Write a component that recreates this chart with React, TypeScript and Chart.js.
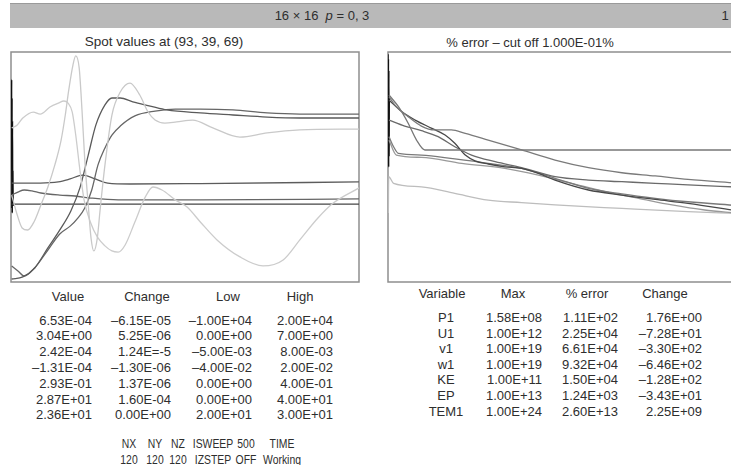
import React, { useEffect, useRef } from "react";
import { Chart, registerables } from "chart.js";
Chart.register(...registerables);

type Pt = [number, number];

// ---------- table data ----------
const variables = ["P1", "U1", "v1", "w1", "KE", "EP", "TEM1"];
const maxCol = ["1.58E+08", "1.00E+12", "1.00E+19", "1.00E+19", "1.00E+11", "1.00E+13", "1.00E+24"];
const errCol = ["1.11E+02", "2.25E+04", "6.61E+04", "9.32E+04", "1.50E+04", "1.24E+03", "2.60E+13"];
const chgCol = ["1.76E+00", "–7.28E+01", "–3.30E+02", "–6.46E+02", "–1.28E+02", "–3.43E+01", "2.25E+09"];

const valueCol = ["6.53E-04", "3.04E+00", "2.42E-04", "–1.31E-04", "2.93E-01", "2.87E+01", "2.36E+01"];
const changeCol = ["–6.15E-05", "5.25E-06", "1.24E=-5", "–1.30E-06", "1.37E-06", "1.60E-04", "0.00E+00"];
const lowCol = ["–1.00E+04", "0.00E+00", "–5.00E-03", "–4.00E-02", "0.00E+00", "0.00E+00", "2.00E+01"];
const highCol = ["2.00E+04", "7.00E+00", "8.00E-03", "2.00E-02", "4.00E-01", "4.00E+01", "3.00E+01"];

const gridHead = ["NX", "NY", "NZ", "ISWEEP", "500", "TIME"];
const gridVals = ["120", "120", "120", "IZSTEP", "OFF", "Working"];

// ---------- spot values (sweep, % of Low..High range) ----------
const spotA: Pt[] = [[1,37.8],[9,29.1],[16,23.5],[24,22.6],[33,26.1],[43,33.5],[53,41.3],[63,50.9],[72,61.7],[78,72.6],[83,83.5],[89,94.3],[93,98.3],[98,93],[102,74.8],[106,53],[111,33.5],[115,19.1],[119,13.5],[124,19.1],[128,31.3],[135,50.9],[145,72.6],[157,82.6],[171,86.5],[185,81.3],[197,73.9],[207,70.4],[221,69.1],[238,69.6],[261,70.4],[290,67],[329,63],[368,64.8],[415,66.1],[500,66.5]];
const spotB: Pt[] = [[1,67],[9,68.3],[17,71.3],[32,73.9],[42,73],[56,76.1],[68,77.8],[76,78.7],[82,77.8],[88,73.9],[93,63.9],[99,48.7],[105,35.7],[114,26.1],[124,19.6],[135,15.7],[145,13.5],[154,13],[164,16.1],[178,26.1],[193,37],[204,41.3],[217,40],[236,35.7],[253,32.6],[272,26.1],[296,18.3],[329,10.9],[362,7],[391,9.6],[415,18.3],[441,27.8],[463,34.3],[500,40.9]];
const spotC: Pt[] = [[1,1.3],[17,2.2],[34,6.1],[53,14.8],[72,23.5],[86,30.9],[99,40.9],[111,55.2],[122,68.3],[135,77],[145,80],[157,80],[175,78.3],[200,76.5],[224,74.8],[272,73.5],[319,72.6],[368,71.7],[415,71.3],[500,71.3]];
const spotD: Pt[] = [[1,7],[10,4.8],[19,2.6],[34,6.1],[53,13.9],[70,20.9],[85,24.3],[96,27.8],[106,32.2],[116,40],[125,50.9],[135,58.3],[145,63.9],[157,67.8],[178,72.2],[207,74.3],[236,75.2],[272,75.2],[319,74.8],[368,73.5],[415,73],[500,73]];
const spotE: Pt[] = [[1,43],[42,43],[68,43.5],[85,44.8],[103,46.5],[121,44.8],[139,43],[171,42.6],[272,42.8],[500,43.5]];
const spotF: Pt[] = [[1,37.8],[10,39.1],[19,40],[30,39.6],[43,38.7],[70,37.8],[92,37.4],[115,36.5],[154,35.7],[272,35.7],[500,36.1]];
const spotG: Pt[] = [[1,33.9],[250,33.9],[500,33.9]];
const spotStart: Pt[] = [[0.6,60],[0.9,88],[1.2,32],[1.5,80],[1.8,30],[2.1,70],[2.4,36],[2.7,48],[3,33]];

// ---------- % error history (sweep, relative log level) ----------
const errA: Pt[] = [[1.4,80.6],[10,76.9],[29,71.9],[48,67.8],[67,66.1],[91,66.1],[111,64.6],[144,61.7],[192,57.4],[240,53],[288,49.7],[336,47.5],[384,46.1],[431,44.6],[500,43]];
const errB: Pt[] = [[1.4,81.3],[15,76.2],[29,69],[41,61.7],[53,57.4],[250,57.4],[500,57.4]];
const errC: Pt[] = [[1.4,79.1],[20,74],[39,70.4],[63,66.8],[82,63.9],[96,60.3],[111,55.2],[125,52.7],[144,51.3],[168,50.1],[192,49.4],[216,47.2],[240,44.3],[288,40],[336,37.8],[384,35.9],[431,34.2],[500,31]];
const errD: Pt[] = [[1.4,70.4],[24,67.8],[48,65.8],[72,63.2],[96,58.8],[120,55.2],[154,52.3],[192,49.7],[240,45.8],[288,44.3],[336,43.6],[384,42.9],[431,42.2],[500,41.3]];
const errE: Pt[] = [[1.4,63.2],[8,58.8],[15,55.9],[48,55.2],[96,53.5],[144,51.6],[192,49.4],[240,45.1],[288,40.7],[336,38.3],[384,36.4],[431,34.9],[500,33.3]];
const errF: Pt[] = [[1.4,61.7],[12,55.2],[48,54.2],[106,51.6],[168,49.4],[216,46.5],[264,42.9],[312,39.3],[360,36.4],[408,33.5],[455,31.3],[500,30]];
const errG: Pt[] = [[0.5,30],[1,45.8],[8,42.9],[48,41.4],[96,38.5],[144,35.6],[192,34.5],[240,33.5],[336,32],[431,30.6],[500,29.8]];
const errStart: Pt[] = [[0,99],[0.3,52],[0.6,97],[0.9,50],[1.2,92],[1.5,55],[1.8,80]];

type Series = { data: Pt[]; color: string; width: number };

const boxPlugin = {
  id: "box",
  beforeDatasetsDraw(chart: any) {
    const { ctx, chartArea: a } = chart;
    ctx.save();
    ctx.strokeStyle = "#8e8e8e";
    ctx.lineWidth = 1.5;
    ctx.strokeRect(a.left, a.top, a.right - a.left, a.bottom - a.top);
    ctx.restore();
  },
};

function LineChart({ left, top, series }: { left: number; top: number; series: Series[] }) {
  const ref = useRef<HTMLCanvasElement>(null);
  useEffect(() => {
    const chart = new Chart(ref.current!, {
      type: "line",
      data: {
        datasets: series.map((s) => ({
          data: s.data.map(([x, y]) => ({ x, y })),
          borderColor: s.color,
          borderWidth: s.width,
          pointRadius: 0,
          cubicInterpolationMode: "monotone",
          fill: false,
        })),
      },
      options: {
        animation: false,
        responsive: false,
        events: [],
        layout: { padding: 1 },
        plugins: { legend: { display: false }, tooltip: { enabled: false } },
        scales: {
          x: { type: "linear", min: 0, max: 500, display: false },
          y: { type: "linear", min: 0, max: 100, display: false },
        },
      } as any,
      plugins: [boxPlugin],
    });
    return () => chart.destroy();
  }, []);
  return (
    <canvas
      ref={ref}
      width={350}
      height={232}
      style={{ position: "absolute", left, top, width: 350, height: 232 }}
    />
  );
}

const FONT = '"Liberation Sans", Arial, Helvetica, sans-serif';
const INK = "#2e2e2e";

function T({ x, y, align = "center", size = 13, sx = 1, children }: any) {
  const w = 240;
  const left = align === "center" ? x - w / 2 : align === "right" ? x - w : x;
  return (
    <div
      style={{
        position: "absolute",
        left,
        top: y - size / 2 - 1,
        width: w,
        height: size + 2,
        lineHeight: `${size + 2}px`,
        fontSize: size,
        fontFamily: FONT,
        color: INK,
        textAlign: align,
        whiteSpace: "pre",
        transform: sx !== 1 ? `scaleX(${sx})` : undefined,
        transformOrigin: "center",
      }}
    >
      {children}
    </div>
  );
}

export default function App() {
  const leftSeries: Series[] = [
    { data: spotA, color: "#c9c9c9", width: 1.3 },
    { data: spotB, color: "#cccccc", width: 1.3 },
    { data: spotC, color: "#5a5a5a", width: 1.3 },
    { data: spotD, color: "#666666", width: 1.3 },
    { data: spotE, color: "#5c5c5c", width: 1.3 },
    { data: spotF, color: "#666666", width: 1.3 },
    { data: spotG, color: "#444444", width: 1.3 },
    { data: spotStart, color: "#111111", width: 1.5 },
  ];
  const rightSeries: Series[] = [
    { data: errA, color: "#7a7a7a", width: 1.3 },
    { data: errB, color: "#777777", width: 1.3 },
    { data: errC, color: "#484848", width: 1.3 },
    { data: errD, color: "#6a6a6a", width: 1.3 },
    { data: errE, color: "#7a7a7a", width: 1.3 },
    { data: errF, color: "#999999", width: 1.3 },
    { data: errG, color: "#bdbdbd", width: 1.3 },
    { data: errStart, color: "#111111", width: 1.5 },
  ];

  const rowL = (i: number) => 320 + i * 15.8;
  const rowR = (i: number) => 317.7 + i * 15.55;
  const gridX = [129, 155, 178, 213, 246, 282];

  return (
    <div
      style={{
        position: "fixed",
        left: 0,
        top: 0,
        width: 731,
        height: 465,
        overflow: "hidden",
        background: "#ffffff",
      }}
    >
      <div
        style={{
          position: "absolute",
          left: 10,
          top: 3,
          width: 740,
          height: 24,
          background: "#b9b9b9",
          borderTop: "1px solid #9a9a9a",
        }}
      />
      <T x={322} y={15}>
        {"16 × 16  "}
        <i>p</i>
        {" = 0, 3"}
      </T>
      <T x={725} y={15}>1</T>

      <T x={164} y={42} size={13.5}>Spot values at (93, 39, 69)</T>
      <T x={530} y={42} size={13}>% error – cut off 1.000E-01%</T>

      <LineChart left={10} top={51} series={leftSeries} />
      <LineChart left={387} top={51} series={rightSeries} />

      <T x={68} y={296}>Value</T>
      <T x={147} y={296}>Change</T>
      <T x={228} y={296}>Low</T>
      <T x={300} y={296}>High</T>
      {valueCol.map((v, i) => (
        <T key={"v" + i} x={92} y={rowL(i)} align="right">{v}</T>
      ))}
      {changeCol.map((v, i) => (
        <T key={"c" + i} x={171} y={rowL(i)} align="right">{v}</T>
      ))}
      {lowCol.map((v, i) => (
        <T key={"l" + i} x={252} y={rowL(i)} align="right">{v}</T>
      ))}
      {highCol.map((v, i) => (
        <T key={"h" + i} x={333} y={rowL(i)} align="right">{v}</T>
      ))}
      {gridHead.map((v, i) => (
        <T key={"gh" + i} x={gridX[i]} y={443} size={13} sx={0.8}>{v}</T>
      ))}
      {gridVals.map((v, i) => (
        <T key={"gv" + i} x={gridX[i]} y={459} size={13} sx={0.8}>{v}</T>
      ))}

      <T x={442} y={293}>Variable</T>
      <T x={513} y={293}>Max</T>
      <T x={587} y={293}>% error</T>
      <T x={665} y={293}>Change</T>
      {variables.map((v, i) => (
        <T key={"n" + i} x={446} y={rowR(i)}>{v}</T>
      ))}
      {maxCol.map((v, i) => (
        <T key={"m" + i} x={542} y={rowR(i)} align="right">{v}</T>
      ))}
      {errCol.map((v, i) => (
        <T key={"e" + i} x={618} y={rowR(i)} align="right">{v}</T>
      ))}
      {chgCol.map((v, i) => (
        <T key={"g" + i} x={702} y={rowR(i)} align="right">{v}</T>
      ))}
    </div>
  );
}
